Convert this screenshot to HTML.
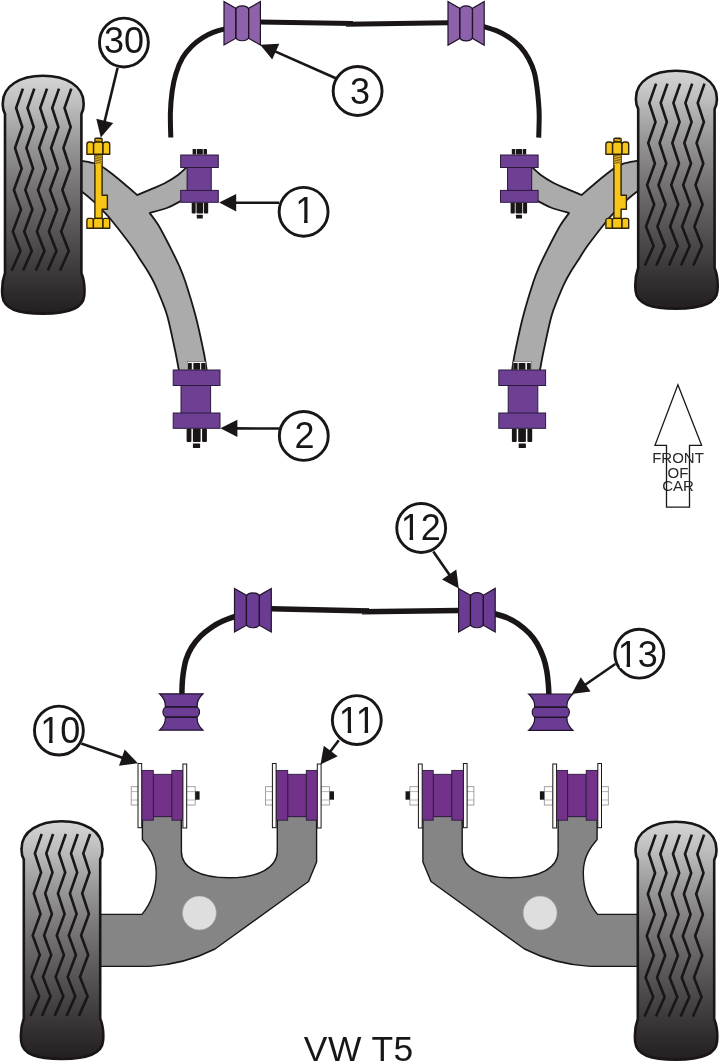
<!DOCTYPE html>
<html><head><meta charset="utf-8"><title>VW T5</title>
<style>html,body{margin:0;padding:0;background:#fff}svg{display:block}text{filter:grayscale(1)}</style></head>
<body><svg width="720" height="1063" viewBox="0 0 720 1063" font-family="'Liberation Sans', sans-serif">
<defs>
<linearGradient id="tg" gradientUnits="userSpaceOnUse" x1="0" y1="75" x2="0" y2="314">
<stop offset="0" stop-color="#d6d6d6"/><stop offset="0.12" stop-color="#bebebe"/><stop offset="0.28" stop-color="#9a9999"/><stop offset="0.45" stop-color="#797777"/><stop offset="0.6" stop-color="#5f5d5d"/><stop offset="0.75" stop-color="#484546"/><stop offset="0.88" stop-color="#343031"/><stop offset="1" stop-color="#231f20"/>
</linearGradient>
<g id="tire"><path d="M5,114 C2.6,110 2.6,106 2.8,103 C2.8,86 20,75.8 43,75.8 C66,75.8 83.6,86 83.6,103 C83.8,106 83.8,110 81.4,114 L81.4,273 C84.6,281 84.8,290 84.2,296 C83,309 68,313.6 43,313.6 C18,313.6 3.6,309 2.4,296 C1.8,290 2,281 5,273 Z" fill="url(#tg)" stroke="#1a1617" stroke-width="2.6"/>
<g fill="none" stroke="#1a1617" stroke-width="2.6" stroke-linejoin="miter"><path d="M22.9,88.6 L16.1,108.0 L22.3,127.0 L15.0,148.0 L21.7,168.5 L13.9,190.0 L21.0,209.5 L12.8,231.5 L20.4,251.0 L11.7,270.5"/><path d="M34.3,88.6 L27.5,108.0 L33.7,127.0 L26.4,148.0 L33.1,168.5 L25.3,190.0 L32.4,209.5 L24.2,231.5 L31.8,251.0 L23.1,270.5"/><path d="M47.0,88.6 L40.2,108.0 L46.4,127.0 L39.1,148.0 L45.8,168.5 L38.0,190.0 L45.1,209.5 L36.9,231.5 L44.5,251.0 L35.8,270.5"/><path d="M59.0,88.6 L52.2,108.0 L58.4,127.0 L51.1,148.0 L57.8,168.5 L50.0,190.0 L57.1,209.5 L48.9,231.5 L56.5,251.0 L47.8,270.5"/><path d="M71.3,88.6 L64.5,108.0 L70.7,127.0 L63.4,148.0 L70.1,168.5 L62.3,190.0 L69.4,209.5 L61.2,231.5 L68.8,251.0 L60.1,270.5"/></g></g>
<g id="fhalf"><path id="farm" d="M79.0,160.2 C79.5,160.3 79.6,160.3 82.2,160.8 C84.8,161.3 91.4,162.3 94.7,163.3 C98.0,164.3 99.4,165.0 102.2,166.7 C105.0,168.4 107.5,170.4 111.3,173.3 C115.0,176.2 120.4,180.6 124.7,184.2 C129.0,187.8 135.1,193.2 137.2,195.0 C139.5,194.0 146.7,191.1 151.3,189.2 C155.9,187.2 160.2,185.7 164.7,183.3 C169.1,180.9 174.1,177.9 178.0,175.0 C181.9,172.1 186.3,167.5 188.0,166.0 L188,200.8 L181.3,200.8 C179.1,201.9 173.3,205.5 168.0,207.5 C162.7,209.5 152.8,212.1 149.7,213.0 C151.1,215.0 155.1,219.7 158.3,225.0 C161.5,230.3 165.6,238.3 169.0,245.0 C172.4,251.7 176.1,258.9 178.8,265.0 C181.5,271.1 182.5,272.9 185.3,281.5 C188.1,290.1 192.8,305.3 195.8,316.7 C198.8,328.1 201.7,342.4 203.3,350.0 C204.9,357.6 204.9,358.2 205.5,362.0 C206.1,365.8 206.8,371.2 207.0,373.0 L180,373 C179.8,372.4 179.5,373.0 178.7,369.2 C177.9,365.4 176.9,358.8 175.0,350.0 C173.1,341.2 169.8,325.0 167.5,316.7 C165.2,308.4 163.7,305.6 161.5,300.0 C159.3,294.4 156.7,288.1 154.4,283.3 C152.1,278.5 149.9,274.9 147.6,271.0 C145.3,267.1 142.7,263.5 140.5,260.0 C138.3,256.5 136.4,253.3 134.2,250.0 C131.9,246.7 130.8,245.0 127.0,240.0 C123.2,235.0 115.3,224.9 111.3,220.0 C107.3,215.1 105.9,213.9 103.0,210.8 C100.1,207.8 97.1,204.8 93.8,201.7 C90.5,198.6 85.5,194.4 83.0,192.5 C80.5,190.6 79.7,190.4 79.0,190.0 Z" fill="#ababab" stroke="#1a1617" stroke-width="1.8" stroke-linejoin="round"/><g transform="translate(180.7,155)"><rect x="11.6" y="-1.2" width="15" height="1.6" fill="#e8e8e8"/><rect x="11.9" y="-6" width="3.5" height="5.4" rx="0.6" fill="#1a1617"/><rect x="16.1" y="-6" width="6" height="5.4" rx="0.6" fill="#1a1617"/><rect x="22.8" y="-6" width="3.5" height="5.4" rx="0.6" fill="#1a1617"/><rect x="11" y="47.6" width="4" height="11" rx="0.8" fill="#1a1617"/><rect x="15.8" y="47.6" width="6.7" height="11" rx="0.8" fill="#1a1617"/><rect x="23.3" y="47.6" width="4.2" height="11" rx="0.8" fill="#1a1617"/><rect x="16.1" y="59.8" width="6" height="3.8" rx="0.5" fill="#1a1617"/><rect x="6.4" y="12" width="24.15" height="24" fill="#6d4094" stroke="#2b1a3c" stroke-width="1"/><rect x="0" y="0" width="37.6" height="12.5" fill="#6d4094" stroke="#2b1a3c" stroke-width="1"/><rect x="0" y="35.4" width="37.6" height="11.9" fill="#6d4094" stroke="#2b1a3c" stroke-width="1"/></g><g transform="translate(173.2,370)"><rect x="14.1" y="-8.3" width="18.4" height="9" fill="#f2f2f2" stroke="#555" stroke-width="0.5"/><rect x="14.8" y="-7" width="3.8" height="6.7" rx="0.5" fill="#1a1617"/><rect x="20.2" y="-7" width="6.7" height="6.7" rx="0.5" fill="#1a1617"/><rect x="28" y="-7" width="4.2" height="6.7" rx="0.5" fill="#1a1617"/><rect x="13.4" y="58.6" width="4.8" height="13.5" rx="1" fill="#1a1617"/><rect x="19.7" y="58.6" width="7.7" height="13.5" rx="1" fill="#1a1617"/><rect x="28.9" y="58.6" width="4.8" height="13.5" rx="1" fill="#1a1617"/><rect x="19.7" y="73.6" width="7.2" height="4.3" rx="0.5" fill="#1a1617"/><rect x="7.8" y="15" width="29.6" height="28.5" fill="#6d4094" stroke="#2b1a3c" stroke-width="1"/><rect x="0" y="0" width="46.8" height="15.5" fill="#6d4094" stroke="#2b1a3c" stroke-width="1"/><rect x="0" y="43" width="46.8" height="15.3" fill="#6d4094" stroke="#2b1a3c" stroke-width="1"/></g></g>
<g id="rhalf"><path d="M142.4,819 L142.4,839.5 C148,846 156,856 156.2,872 C156.4,892 149,906 142,914.4 L100,914.4 L100,966.4 L149,966.4 C175,965 195,959 215,949 L308.5,881.5 L316.6,862 L316.6,819 L306,816 L288,816 L277.3,819 L277.3,851.5 C277,868 258,877.8 229,877.8 C200,877.8 181.4,868 181.4,851.5 L181.4,819 L172,816 L153,816 Z" fill="#858585" stroke="#1a1617" stroke-width="1.4" stroke-linejoin="round"/><circle cx="199.4" cy="913" r="17" fill="#dedede" stroke="#9a9a9a" stroke-width="0.6"/><g transform="translate(138,0)"><rect x="-6.8" y="786.7" width="7" height="18.3" fill="#fff" stroke="#8a8a8a" stroke-width="0.8"/><path d="M-6.8,791.6 h7 M-6.8,800 h7" stroke="#9a9a9a" stroke-width="0.7"/><rect x="48.6" y="786.7" width="8.6" height="18.3" fill="#fff" stroke="#8a8a8a" stroke-width="0.8"/><path d="M48.6,791.6 h8.6 M48.6,800 h8.6" stroke="#9a9a9a" stroke-width="0.7"/><rect x="57.2" y="791.3" width="4.4" height="8.4" fill="#1a1617"/><rect x="15.3" y="774.3" width="18.6" height="42.4" fill="#73328a" stroke="#2b1a3c" stroke-width="0.9"/><rect x="3.7" y="770.4" width="11.6" height="49.8" fill="#73328a" stroke="#2b1a3c" stroke-width="0.9"/><rect x="33.9" y="770.4" width="11.2" height="49.8" fill="#73328a" stroke="#2b1a3c" stroke-width="0.9"/><rect x="0" y="763.5" width="3.7" height="64.2" fill="#fbfbfb" stroke="#1a1617" stroke-width="1"/><rect x="44.9" y="764" width="3.8" height="64" fill="#fbfbfb" stroke="#1a1617" stroke-width="1"/></g><g transform="translate(272.4,0)"><rect x="-6.8" y="786.7" width="7" height="18.3" fill="#fff" stroke="#8a8a8a" stroke-width="0.8"/><path d="M-6.8,791.6 h7 M-6.8,800 h7" stroke="#9a9a9a" stroke-width="0.7"/><rect x="48.6" y="786.7" width="8.6" height="18.3" fill="#fff" stroke="#8a8a8a" stroke-width="0.8"/><path d="M48.6,791.6 h8.6 M48.6,800 h8.6" stroke="#9a9a9a" stroke-width="0.7"/><rect x="57.2" y="791.3" width="4.4" height="8.4" fill="#1a1617"/><rect x="15.3" y="774.3" width="18.6" height="42.4" fill="#73328a" stroke="#2b1a3c" stroke-width="0.9"/><rect x="3.7" y="770.4" width="11.6" height="49.8" fill="#73328a" stroke="#2b1a3c" stroke-width="0.9"/><rect x="33.9" y="770.4" width="11.2" height="49.8" fill="#73328a" stroke="#2b1a3c" stroke-width="0.9"/><rect x="0" y="763.5" width="3.7" height="64.2" fill="#fbfbfb" stroke="#1a1617" stroke-width="1"/><rect x="44.9" y="764" width="3.8" height="64" fill="#fbfbfb" stroke="#1a1617" stroke-width="1"/></g></g>
</defs>
<rect width="720" height="1063" fill="#fff"/>
<!-- front ARB -->
<path d="M170.8,137.5 C170.7,133.4 170.2,120.7 170.4,112.9 C170.6,105.1 171.3,97.3 172.2,90.8 C173.1,84.3 174.2,79.2 175.9,73.7 C177.6,68.2 179.9,62.4 182.6,57.8 C185.2,53.2 188.4,49.6 191.8,46.2 C195.2,42.8 199.1,40.0 202.8,37.6 C206.5,35.2 209.9,33.6 213.8,32.1 C217.7,30.6 224.0,29.2 226.0,28.6 M259,22.0 L353,23.5 M346,24.3 L448,22.7 M482.0,26.0 C484.5,26.8 492.4,29.0 497.0,30.9 C501.6,32.8 505.4,35.0 509.3,37.6 C513.2,40.2 517.0,43.2 520.3,46.8 C523.5,50.4 526.5,54.7 528.8,59.0 C531.1,63.3 532.9,67.6 534.3,72.5 C535.7,77.4 536.4,83.3 537.1,88.4 C537.8,93.5 538.2,98.4 538.6,103.1 C539.0,107.8 539.2,110.8 539.2,116.5 C539.2,122.2 538.8,134.1 538.7,137.6" fill="none" stroke="#1a1617" stroke-width="5"/>
<g transform="translate(224,1.6)" stroke="#1f1428" stroke-width="1.2" fill="#8d62ab" stroke-linejoin="miter"><path d="M0,0 L11.7936,6.726999999999999 L24.6064,6.726999999999999 L36.4,0 L36.4,43.4 L24.6064,36.673 L11.7936,36.673 L0,43.4 Z"/><rect x="11.7936" y="4.226999999999999" width="12.8128" height="34.946" rx="6.4064" ry="3.6"/><path d="M11.7936,6.726999999999999 V36.673 M24.6064,6.726999999999999 V36.673" fill="none"/></g><g transform="translate(448,1.6)" stroke="#1f1428" stroke-width="1.2" fill="#8d62ab" stroke-linejoin="miter"><path d="M0,0 L11.728800000000001,6.758 L24.471200000000003,6.758 L36.2,0 L36.2,43.6 L24.471200000000003,36.842 L11.728800000000001,36.842 L0,43.6 Z"/><rect x="11.728800000000001" y="4.258" width="12.7424" height="35.084" rx="6.3712" ry="3.6"/><path d="M11.728800000000001,6.758 V36.842 M24.471200000000003,6.758 V36.842" fill="none"/></g>
<!-- front left -->
<use href="#fhalf"/>
<use href="#fhalf" transform="translate(718.8,0) scale(-1,1)"/>
<use href="#tire"/>
<use href="#tire" transform="translate(633.2,-5)"/>
<g transform="translate(0,0)" fill="#f8c617" stroke="#2e2407" stroke-width="1.4" stroke-linejoin="round"><rect x="94.9" y="138.2" width="7.2" height="4" rx="1"/><path d="M94.9,154 L102.1,154 L102.1,195.2 L107.4,195.2 L107.4,209.2 L102.1,209.2 L102.1,218.4 L94.9,218.4 Z"/><rect x="95" y="154.6" width="7" height="9.4" fill="#8a6a12" stroke="none"/><path d="M95.2,157.6 l6.6,-1.8 M95.2,160 l6.6,-1.8 M95.2,162.4 l6.6,-1.8 M95.2,164.6 l6.6,-1.8" fill="none" stroke="#f0c030" stroke-width="0.9"/><path d="M95.6,140.6 l5.6,-1.2" fill="none" stroke="#8a6a12" stroke-width="0.8"/><path d="M86.9,154.2 V144.4 Q86.9,142 89.30000000000001,142 H91.19999999999999 Q93.6,142 93.6,144.4 V154.2 Z"/><path d="M93.6,154.2 V144.4 Q93.6,142 96.0,142 H100.6 Q103,142 103,144.4 V154.2 Z"/><path d="M103,154.2 V144.4 Q103,142 105.4,142 H107.3 Q109.7,142 109.7,144.4 V154.2 Z"/><path d="M86.9,228.2 V220.20000000000002 Q86.9,218.4 88.7,218.4 H91.60000000000001 Q93.4,218.4 93.4,220.20000000000002 V228.2 Z"/><path d="M93.4,228.2 V220.20000000000002 Q93.4,218.4 95.2,218.4 H101.2 Q103,218.4 103,220.20000000000002 V228.2 Z"/><path d="M103,228.2 V220.20000000000002 Q103,218.4 104.8,218.4 H107.9 Q109.7,218.4 109.7,220.20000000000002 V228.2 Z"/></g><g transform="translate(519,0)" fill="#f8c617" stroke="#2e2407" stroke-width="1.4" stroke-linejoin="round"><rect x="94.9" y="138.2" width="7.2" height="4" rx="1"/><path d="M94.9,154 L102.1,154 L102.1,195.2 L107.4,195.2 L107.4,209.2 L102.1,209.2 L102.1,218.4 L94.9,218.4 Z"/><rect x="95" y="154.6" width="7" height="9.4" fill="#8a6a12" stroke="none"/><path d="M95.2,157.6 l6.6,-1.8 M95.2,160 l6.6,-1.8 M95.2,162.4 l6.6,-1.8 M95.2,164.6 l6.6,-1.8" fill="none" stroke="#f0c030" stroke-width="0.9"/><path d="M95.6,140.6 l5.6,-1.2" fill="none" stroke="#8a6a12" stroke-width="0.8"/><path d="M86.9,154.2 V144.4 Q86.9,142 89.30000000000001,142 H91.19999999999999 Q93.6,142 93.6,144.4 V154.2 Z"/><path d="M93.6,154.2 V144.4 Q93.6,142 96.0,142 H100.6 Q103,142 103,144.4 V154.2 Z"/><path d="M103,154.2 V144.4 Q103,142 105.4,142 H107.3 Q109.7,142 109.7,144.4 V154.2 Z"/><path d="M86.9,228.2 V220.20000000000002 Q86.9,218.4 88.7,218.4 H91.60000000000001 Q93.4,218.4 93.4,220.20000000000002 V228.2 Z"/><path d="M93.4,228.2 V220.20000000000002 Q93.4,218.4 95.2,218.4 H101.2 Q103,218.4 103,220.20000000000002 V228.2 Z"/><path d="M103,228.2 V220.20000000000002 Q103,218.4 104.8,218.4 H107.9 Q109.7,218.4 109.7,220.20000000000002 V228.2 Z"/></g>
<!-- rear ARB -->
<path d="M181.9,695.0 C181.9,693.1 182.0,687.6 182.2,683.9 C182.4,680.2 182.7,676.9 183.3,672.8 C184.0,668.7 184.7,663.7 186.1,659.4 C187.5,655.1 189.3,651.1 191.7,647.2 C194.1,643.3 197.3,639.4 200.6,636.1 C203.9,632.8 208.0,629.7 211.7,627.2 C215.4,624.7 218.8,622.9 222.8,621.1 C226.9,619.3 233.8,617.0 236.0,616.2 M271,608.8 L369,611.1 M362,611.7 L459,610.4 M493.0,613.3 C495.4,614.0 503.0,616.0 507.2,617.8 C511.4,619.6 514.6,621.3 518.3,623.9 C522.0,626.5 526.2,630.0 529.4,633.3 C532.5,636.6 534.9,639.9 537.2,643.9 C539.5,647.9 541.7,652.8 543.3,657.2 C544.9,661.7 545.9,666.2 546.7,670.6 C547.5,675.0 547.9,679.8 548.3,683.9 C548.7,688.0 548.8,693.1 548.9,695.0" fill="none" stroke="#1a1617" stroke-width="5.5"/>
<g transform="translate(234.5,588.6)" stroke="#1f1428" stroke-width="1.2" fill="#6b3c94" stroke-linejoin="miter"><path d="M0,0 L11.9232,6.726999999999999 L24.876799999999996,6.726999999999999 L36.8,0 L36.8,43.4 L24.876799999999996,36.673 L11.9232,36.673 L0,43.4 Z"/><rect x="11.9232" y="4.226999999999999" width="12.953599999999998" height="34.946" rx="6.476799999999999" ry="3.6"/><path d="M11.9232,6.726999999999999 V36.673 M24.876799999999996,6.726999999999999 V36.673" fill="none"/></g><g transform="translate(458.6,588.4)" stroke="#1f1428" stroke-width="1.2" fill="#6b3c94" stroke-linejoin="miter"><path d="M0,0 L11.858400000000001,6.758 L24.7416,6.758 L36.6,0 L36.6,43.6 L24.7416,36.842 L11.858400000000001,36.842 L0,43.6 Z"/><rect x="11.858400000000001" y="4.258" width="12.883199999999999" height="35.084" rx="6.441599999999999" ry="3.6"/><path d="M11.858400000000001,6.758 V36.842 M24.7416,6.758 V36.842" fill="none"/></g>
<g transform="translate(159.5,693.8)" stroke="#1f1428" stroke-width="1.2" fill="#6b3c94"><path d="M0,0 L43.5,0 Q37.1275,5.8968 37.6275,13.104 L37.6275,23.296 Q37.1275,30.5032 43.5,36.4 L0,36.4 Q6.3725000000000005,30.5032 5.8725000000000005,23.296 L5.8725000000000005,13.104 Q6.3725000000000005,5.8968 0,0 Z"/><rect x="3.4725000000000006" y="13.104" width="36.555" height="10.192" rx="3.8" ry="5.096"/><path d="M5.8725000000000005,13.104 H37.6275 M5.8725000000000005,23.296 H37.6275" fill="none"/></g><g transform="translate(528.7,694)" stroke="#1f1428" stroke-width="1.2" fill="#6b3c94"><path d="M0,0 L44.2,0 Q37.733000000000004,5.8968 38.233000000000004,13.104 L38.233000000000004,23.296 Q37.733000000000004,30.5032 44.2,36.4 L0,36.4 Q6.4670000000000005,30.5032 5.9670000000000005,23.296 L5.9670000000000005,13.104 Q6.4670000000000005,5.8968 0,0 Z"/><rect x="3.5670000000000006" y="13.104" width="37.066" height="10.192" rx="3.8" ry="5.096"/><path d="M5.9670000000000005,13.104 H38.233000000000004 M5.9670000000000005,23.296 H38.233000000000004" fill="none"/></g>
<use href="#rhalf"/>
<use href="#rhalf" transform="translate(739.5,0) scale(-1,1)"/>
<use href="#tire" transform="translate(18.8,745.4)"/>
<use href="#tire" transform="translate(632.8,746)"/>
<!-- front of car -->
<path d="M677.9,384.8 L701.6,445.3 L689.5,445.3 L689.5,507.1 L666.5,507.1 L666.5,445.3 L655,445.3 Z" fill="none" stroke="#1a1617" stroke-width="1.3"/>
<g font-size="15" text-anchor="middle" fill="#2a2627"><text x="678" y="463">FRONT</text><text x="678" y="478.1">OF</text><text x="678" y="490.8">CAR</text></g>
<!-- callouts -->
<line x1="117.6" y1="67.8" x2="104.3" y2="122.8" stroke="#1a1617" stroke-width="2.6"/><polygon points="100.8,137.4 96.3,118.8 113.2,122.9" fill="#1a1617"/><line x1="337.5" y1="79.0" x2="273.9" y2="50.9" stroke="#1a1617" stroke-width="2.6"/><polygon points="260.2,44.8 279.3,43.7 272.2,59.6" fill="#1a1617"/><line x1="279.0" y1="202.8" x2="234.2" y2="202.7" stroke="#1a1617" stroke-width="2.6"/><polygon points="219.2,202.6 236.2,194.0 236.2,211.4" fill="#1a1617"/><line x1="279.5" y1="428.5" x2="235.4" y2="428.4" stroke="#1a1617" stroke-width="2.6"/><polygon points="220.4,428.3 237.4,419.7 237.4,437.1" fill="#1a1617"/>
<line x1="433.3" y1="551.4" x2="450.3" y2="576.1" stroke="#1a1617" stroke-width="2.6"/><polygon points="458.8,588.5 442.0,579.4 456.3,569.6" fill="#1a1617"/><line x1="615.3" y1="664.0" x2="584.1" y2="685.5" stroke="#1a1617" stroke-width="2.6"/><polygon points="571.7,694.0 580.8,677.2 590.6,691.5" fill="#1a1617"/><line x1="81.3" y1="743.5" x2="123.7" y2="758.3" stroke="#1a1617" stroke-width="2.6"/><polygon points="137.9,763.2 119.0,765.8 124.7,749.4" fill="#1a1617"/><line x1="338.8" y1="740.3" x2="329.5" y2="752.5" stroke="#1a1617" stroke-width="2.6"/><polygon points="320.5,764.5 323.8,745.7 337.7,756.2" fill="#1a1617"/>
<circle cx="123.9" cy="42.55" r="24.45" fill="#fff" stroke="#1a1617" stroke-width="2.9"/><text x="103.88 123.90" y="52.9" font-size="36" fill="#1a1617">30</text><circle cx="357.6" cy="91.0" r="24.45" fill="#fff" stroke="#1a1617" stroke-width="2.9"/><text x="349.99" y="103.7" font-size="36" fill="#1a1617">3</text><circle cx="303.6" cy="211.8" r="24.45" fill="#fff" stroke="#1a1617" stroke-width="2.9"/><text x="295.19" y="223.2" font-size="36" fill="#1a1617">1</text><rect x="297.30" y="219.07" width="6.77" height="5.03" fill="#fff"/><rect x="307.60" y="219.07" width="6.49" height="5.03" fill="#fff"/><circle cx="303.8" cy="435.9" r="24.45" fill="#fff" stroke="#1a1617" stroke-width="2.9"/><text x="294.59" y="447.7" font-size="36" fill="#1a1617">2</text>
<circle cx="421.2" cy="528.0" r="24.45" fill="#fff" stroke="#1a1617" stroke-width="2.9"/><text x="400.68 420.70" y="540.1" font-size="36" fill="#1a1617">12</text><rect x="402.79" y="535.97" width="6.77" height="5.03" fill="#fff"/><rect x="413.09" y="535.97" width="6.49" height="5.03" fill="#fff"/><circle cx="639.3" cy="653.7" r="24.45" fill="#fff" stroke="#1a1617" stroke-width="2.9"/><text x="617.68 637.70" y="667.2" font-size="36" fill="#1a1617">13</text><rect x="619.79" y="663.07" width="6.77" height="5.03" fill="#fff"/><rect x="630.09" y="663.07" width="6.49" height="5.03" fill="#fff"/><circle cx="58.9" cy="730.6" r="24.45" fill="#fff" stroke="#1a1617" stroke-width="2.9"/><text x="40.18 60.20" y="743.2" font-size="36" fill="#1a1617">10</text><rect x="42.29" y="739.07" width="6.77" height="5.03" fill="#fff"/><rect x="52.59" y="739.07" width="6.49" height="5.03" fill="#fff"/><circle cx="356.8" cy="720.1" r="24.45" fill="#fff" stroke="#1a1617" stroke-width="2.9"/><text x="338.80 355.70" y="732.6" font-size="36" fill="#1a1617">11</text><rect x="340.91" y="728.47" width="6.77" height="5.03" fill="#fff"/><rect x="351.21" y="728.47" width="6.49" height="5.03" fill="#fff"/><rect x="357.81" y="728.47" width="6.77" height="5.03" fill="#fff"/><rect x="368.11" y="728.47" width="6.49" height="5.03" fill="#fff"/>
<text x="303.8" y="1061.2" font-size="35.4" letter-spacing="0.5" fill="#1a1617">VW T5</text>
</svg></body></html>
